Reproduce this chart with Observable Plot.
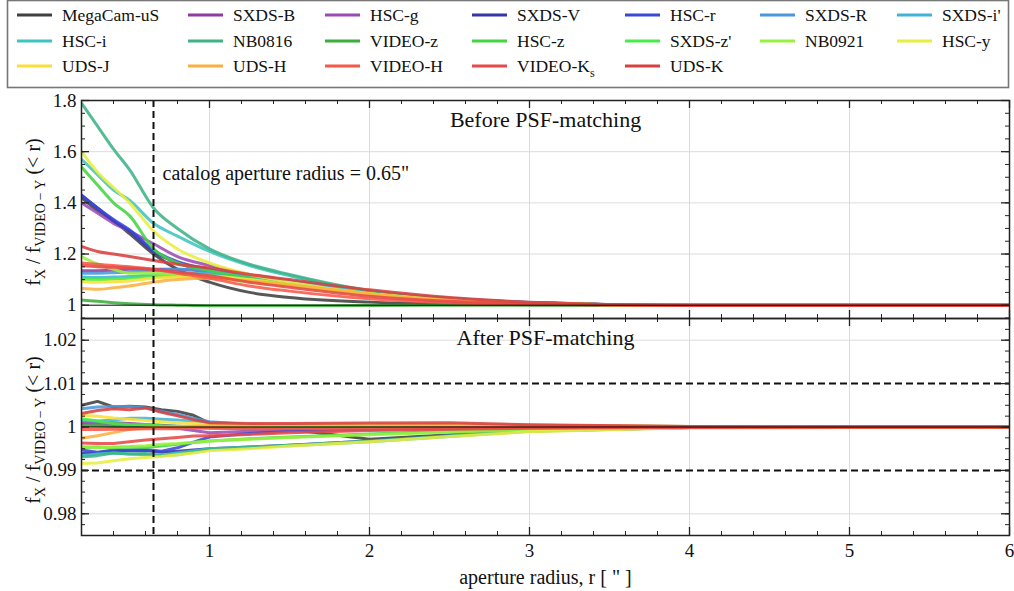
<!DOCTYPE html>
<html><head><meta charset="utf-8">
<script src="https://cdn.jsdelivr.net/npm/d3@7"></script>
<script src="https://cdn.jsdelivr.net/npm/@observablehq/plot@0.6"></script>
<style>
body{margin:0;background:#fff;}
#wrap{position:relative;width:1014px;height:591px;font-family:'Liberation Serif','DejaVu Serif',serif;}
#wrap svg{position:absolute;left:0;overflow:visible;background:transparent;}
#wrap svg text{font-family:'Liberation Serif','DejaVu Serif',serif;}
</style></head><body><div id="wrap"></div>
<script>
// ---------------- data ----------------
const bands = ["MegaCam-uS","SXDS-B","HSC-g","SXDS-V","HSC-r","SXDS-R","SXDS-i'",
  "HSC-i","NB0816","VIDEO-z","HSC-z","SXDS-z'","NB0921","HSC-y",
  "UDS-J","UDS-H","VIDEO-H","VIDEO-Ks","UDS-K"];
const colors = ["#404040","#8e3c9e","#9b4bb5","#3535a8","#3a48d8","#4a98dc","#40b4d8",
  "#40c4c0","#3db386","#3cae3c","#44d444","#48ec48","#98f040","#e8ee40",
  "#f8e038","#f8b040","#f85848","#e84848","#d84040"];

// aperture radii (arcsec) sampled in each panel
const rBefore = [0.2,0.3,0.4,0.5,0.65,0.8,1.0,1.25,1.5,2.0,2.5,3.0,4.0,6.0];
const rAfter  = [0.2,0.3,0.4,0.5,0.6,0.7,0.8,0.9,1.0,1.25,1.5,2.0,2.5,3.0,4.0,6.0];

// Before PSF-matching: f_X / f_VIDEO-Y(<r), one row per band
const before = [
  [1.42,1.37,1.33,1.28,1.20,1.14,1.09,1.05,1.03,1.012,1.005,1.002,1.0,1.0],
  [1.135,1.135,1.137,1.14,1.14,1.14,1.13,1.11,1.09,1.05,1.025,1.01,1.0,1.0],
  [1.40,1.36,1.32,1.29,1.24,1.19,1.155,1.12,1.095,1.05,1.025,1.01,1.0,1.0],
  [1.43,1.38,1.33,1.29,1.21,1.165,1.135,1.11,1.09,1.05,1.024,1.01,1.0,1.0],
  [1.43,1.38,1.335,1.295,1.215,1.17,1.14,1.115,1.095,1.055,1.026,1.011,1.0,1.0],
  [1.125,1.125,1.127,1.13,1.135,1.14,1.135,1.115,1.095,1.055,1.025,1.01,1.0,1.0],
  [1.11,1.108,1.11,1.112,1.12,1.125,1.125,1.11,1.09,1.05,1.022,1.009,1.0,1.0],
  [1.57,1.51,1.45,1.41,1.32,1.27,1.21,1.155,1.115,1.055,1.025,1.01,1.0,1.0],
  [1.79,1.70,1.61,1.53,1.38,1.30,1.22,1.16,1.12,1.057,1.027,1.011,1.0,1.0],
  [1.02,1.015,1.01,1.006,1.002,1.0,0.998,0.998,0.998,0.999,1.0,1.0,1.0,1.0],
  [1.54,1.47,1.40,1.35,1.22,1.165,1.135,1.105,1.08,1.045,1.02,1.008,1.0,1.0],
  [1.10,1.10,1.102,1.105,1.11,1.115,1.115,1.10,1.08,1.045,1.02,1.008,1.0,1.0],
  [1.19,1.16,1.14,1.125,1.125,1.12,1.11,1.09,1.075,1.04,1.02,1.008,1.0,1.0],
  [1.60,1.52,1.46,1.40,1.29,1.22,1.165,1.12,1.09,1.045,1.02,1.008,1.0,1.0],
  [1.092,1.09,1.092,1.095,1.105,1.11,1.112,1.10,1.08,1.045,1.02,1.008,1.0,1.0],
  [1.065,1.062,1.068,1.075,1.09,1.10,1.105,1.095,1.08,1.045,1.02,1.008,1.0,1.0],
  [1.165,1.16,1.155,1.15,1.14,1.125,1.105,1.075,1.055,1.025,1.01,1.004,1.0,1.0],
  [1.155,1.15,1.148,1.145,1.14,1.13,1.115,1.09,1.07,1.035,1.015,1.006,1.0,1.0],
  [1.23,1.21,1.20,1.19,1.175,1.16,1.145,1.12,1.10,1.06,1.03,1.012,1.0,1.0]
];

// After PSF-matching
const after = [
  [1.0050,1.0059,1.0046,1.0048,1.0046,1.0040,1.0036,1.0027,1.0009,1.0005,0.9995,0.9972,0.9982,0.9995,1.0000,1.0000],
  [1.0010,1.0012,1.0010,1.0008,1.0006,1.0004,1.0002,1.0000,0.9998,0.9997,0.9998,0.9999,1.0000,1.0000,1.0000,1.0000],
  [1.0008,1.0006,1.0004,1.0005,1.0002,1.0000,0.9997,0.9992,0.9987,0.9990,0.9994,0.9996,0.9998,0.9999,1.0000,1.0000],
  [0.9939,0.9940,0.9945,0.9945,0.9946,0.9942,0.9944,0.9947,0.9950,0.9954,0.9958,0.9968,0.9980,0.9991,0.9999,1.0000],
  [0.9947,0.9942,0.9947,0.9947,0.9948,0.9944,0.9952,0.9965,0.9977,0.9985,0.9990,0.9994,0.9996,0.9998,1.0000,1.0000],
  [1.0042,1.0046,1.0047,1.0047,1.0044,1.0036,1.0029,1.0020,1.0012,1.0006,1.0003,1.0003,1.0004,1.0003,1.0001,1.0000],
  [1.0015,1.0014,1.0016,1.0020,1.0020,1.0018,1.0016,1.0013,1.0010,1.0004,1.0002,1.0000,1.0000,1.0000,1.0000,1.0000],
  [0.9934,0.9938,0.9940,0.9938,0.9936,0.9935,0.9940,0.9945,0.9950,0.9954,0.9957,0.9966,0.9978,0.9990,0.9998,1.0000],
  [0.9931,0.9934,0.9940,0.9938,0.9939,0.9934,0.9936,0.9942,0.9948,0.9953,0.9958,0.9968,0.9980,0.9991,0.9999,1.0000],
  [1.0003,1.0003,1.0002,1.0002,1.0002,1.0001,1.0001,1.0001,1.0001,1.0001,1.0001,1.0001,1.0000,1.0000,1.0000,1.0000],
  [0.9953,0.9954,0.9952,0.9954,0.9953,0.9956,0.9960,0.9964,0.9968,0.9973,0.9977,0.9984,0.9990,0.9995,0.9999,1.0000],
  [1.0019,1.0014,1.0008,1.0006,1.0005,1.0003,1.0002,1.0001,1.0000,1.0000,1.0000,1.0000,1.0000,1.0000,1.0000,1.0000],
  [0.9955,0.9952,0.9954,0.9955,0.9957,0.9960,0.9962,0.9965,0.9968,0.9972,0.9976,0.9982,0.9988,0.9994,0.9999,1.0000],
  [0.9916,0.9917,0.9922,0.9927,0.9930,0.9932,0.9936,0.9940,0.9945,0.9950,0.9956,0.9966,0.9978,0.9989,0.9998,1.0000],
  [1.0027,1.0025,1.0021,1.0018,1.0015,1.0012,1.0010,1.0008,1.0006,1.0005,1.0005,1.0005,1.0006,1.0004,1.0001,1.0000],
  [0.9974,0.9980,0.9987,0.9995,0.9998,1.0000,1.0001,1.0002,1.0003,1.0004,1.0005,1.0005,1.0005,1.0004,1.0001,1.0000],
  [0.9994,0.9994,0.9995,0.9995,0.9996,0.9996,0.9996,0.9997,0.9997,0.9996,0.9996,0.9997,0.9998,0.9999,1.0000,1.0000],
  [0.9963,0.9962,0.9962,0.9966,0.9970,0.9973,0.9976,0.9979,0.9980,0.9983,0.9987,0.9992,0.9995,0.9997,0.9999,1.0000],
  [1.0031,1.0038,1.0042,1.0040,1.0044,1.0034,1.0026,1.0017,1.0010,1.0008,1.0008,1.0009,1.0010,1.0005,1.0001,1.0000]
];

const xTicks = [1,2,3,4,5,6];
const xGrid = [1,2,3,4,5];
const yTicksBefore = [1,1.2,1.4,1.6,1.8];
const yGridBefore = [1.2,1.4,1.6];
const yTicksAfter = [0.98,0.99,1,1.01,1.02];
const yGridAfter = [0.98,1.02];
const tolerance = [0.99,1.01];
const apertureR = 0.65;
const xLabel = "aperture radius, r [ \" ]";
const catalogText = "catalog aperture radius = 0.65\"";
const titleBefore = "Before PSF-matching";
const titleAfter = "After PSF-matching";

// ---------------- build ----------------
const FONT = "'Liberation Serif','DejaVu Serif',serif";
const W = 1014, ML = 81, MR = 5;
const innerW = W - ML - MR;
const fmt = d => String(+d.toFixed(3));

function tidy(rs, table) {
  const out = [];
  table.forEach((vals, i) => vals.forEach((v, j) => out.push({band: bands[i], r: rs[j], v})));
  return out;
}
const rowsBefore = tidy(rBefore, before);
const rowsAfter = tidy(rAfter, after);

const wrap = document.getElementById("wrap");

function range(a, b, s) { return d3.range(Math.round(a / s), Math.round(b / s) + 1).map(k => +(k * s).toFixed(6)); }

function panel({rows, curve, yDomain, yTicks, yGrid, yMinorStep, yMajorStep, height, marginTop, marginBottom, showX, extras}) {
  const innerH = height - marginTop - marginBottom;
  const xMinor = range(0.2, 6, 0.2).filter(x => x > 0.2 && x < 6);
  const yMinor = range(yDomain[0], yDomain[1], yMinorStep).filter(v => v > yDomain[0] && v < yDomain[1]);
  const yMajor = range(yDomain[0], yDomain[1], yMajorStep).filter(v => v > yDomain[0] && v <= yDomain[1]);
  const xMajor = xTicks;
  const tickStroke = "#222";
  const marks = [
    Plot.ruleX(xGrid, {x: d => d, stroke: "#dcdcdc", strokeWidth: 1}),
    Plot.ruleY(yGrid, {y: d => d, stroke: "#dcdcdc", strokeWidth: 1}),
    ...(extras.before || []),
    Plot.line(rows, {x: "r", y: "v", z: "band", stroke: "band", strokeWidth: 3, strokeOpacity: 0.88, curve, clip: true}),
    Plot.ruleY([1], {y: d => d, stroke: "#000", strokeWidth: 1}),
    Plot.ruleX([apertureR], {x: d => d, stroke: "#111", strokeWidth: 2, strokeDasharray: "7,4"}),
    ...(extras.after || []),
    Plot.tickX(xMinor, {x: d => d, insetTop: innerH - 4, stroke: tickStroke}),
    Plot.tickX(xMinor, {x: d => d, insetBottom: innerH - 4, stroke: tickStroke}),
    Plot.tickX(xMajor, {x: d => d, insetTop: innerH - 8, stroke: tickStroke, strokeWidth: 1.3}),
    Plot.tickX(xMajor, {x: d => d, insetBottom: innerH - 8, stroke: tickStroke, strokeWidth: 1.3}),
    Plot.tickY(yMinor, {y: d => d, insetRight: innerW - 4, stroke: tickStroke}),
    Plot.tickY(yMinor, {y: d => d, insetLeft: innerW - 4, stroke: tickStroke}),
    Plot.tickY(yMajor, {y: d => d, insetRight: innerW - 8, stroke: tickStroke, strokeWidth: 1.3}),
    Plot.tickY(yMajor, {y: d => d, insetLeft: innerW - 8, stroke: tickStroke, strokeWidth: 1.3}),
    Plot.frame({stroke: "#222", strokeWidth: 1.5})
  ];
  const svg = Plot.plot({
    width: W, height, marginLeft: ML, marginRight: MR, marginTop, marginBottom,
    style: {fontSize: "19px", background: "transparent", overflow: "visible", color: "#111"},
    x: {domain: [0.2, 6], ticks: xTicks, tickSize: 0, tickPadding: 8, tickFormat: fmt, label: null, axis: showX ? "bottom" : null},
    y: {domain: yDomain, ticks: yTicks, tickSize: 0, tickPadding: 5, tickFormat: fmt, label: null},
    color: {domain: bands, range: colors},
    marks
  });
  svg.style.fontFamily = FONT;
  return svg;
}

// Legend
const legendSvg = d3.create("svg").attr("width", W).attr("height", 92).style("top", "0px");
legendSvg.append("rect").attr("x", 7.5).attr("y", 0.5).attr("width", 1001).attr("height", 87)
  .attr("fill", "#fff").attr("stroke", "#777").attr("stroke-width", 1.6);
const colX = [17, 188, 325, 472, 625, 760, 897];
const rowY = [15, 41, 66];
bands.forEach((b, i) => {
  const cx = colX[i % 7], cy = rowY[Math.floor(i / 7)];
  legendSvg.append("line").attr("x1", cx).attr("x2", cx + 35).attr("y1", cy).attr("y2", cy)
    .attr("stroke", colors[i]).attr("stroke-width", 3);
  const t = legendSvg.append("text").attr("x", cx + 45).attr("y", cy).attr("dy", "0.35em")
    .attr("font-size", 17.5).attr("fill", "#111");
  if (b === "VIDEO-Ks") {
    t.append("tspan").text("VIDEO-K");
    t.append("tspan").text("s").attr("font-size", 12).attr("dy", 5);
  } else t.text(b);
});
wrap.appendChild(legendSvg.node());

// Top panel
const topSvg = panel({
  rows: rowsBefore, curve: "monotone-x", yDomain: [0.948, 1.8], yTicks: yTicksBefore, yGrid: yGridBefore,
  yMinorStep: 0.05, yMajorStep: 0.2, height: 229, marginTop: 10, marginBottom: 1, showX: false,
  extras: {after: [
    Plot.text([titleBefore], {frameAnchor: "top", lineAnchor: "middle", dy: 19, fontSize: 22, fill: "#111"}),
    Plot.text([catalogText], {x: apertureR, frameAnchor: "top", lineAnchor: "middle", dy: 73, dx: 9, textAnchor: "start", fontSize: 20, fill: "#111"})
  ]}
});
topSvg.style.top = "90px";
wrap.appendChild(topSvg);

// Bottom panel
const botSvg = panel({
  rows: rowsAfter, curve: "linear", yDomain: [0.975, 1.025], yTicks: yTicksAfter, yGrid: yGridAfter,
  yMinorStep: 0.0025, yMajorStep: 0.01, height: 273, marginTop: 0, marginBottom: 56, showX: true,
  extras: {
    before: [Plot.ruleY(tolerance, {y: d => d, stroke: "#111", strokeWidth: 2, strokeDasharray: "7,4"})],
    after: [
      Plot.text([titleAfter], {frameAnchor: "top", lineAnchor: "middle", dy: 19, fontSize: 22, fill: "#111"}),
      Plot.text([xLabel], {frameAnchor: "bottom", lineAnchor: "middle", dy: 42, fontSize: 20, fill: "#111"})
    ]
  }
});
botSvg.style.top = "318px";
wrap.appendChild(botSvg);

// rotated y labels with subscripts
function yLabel(svg, cy) {
  const t = d3.select(svg).append("text")
    .attr("transform", `translate(40,${cy}) rotate(-90)`)
    .attr("text-anchor", "middle").attr("font-size", 20).attr("fill", "#111");
  t.append("tspan").text("f");
  t.append("tspan").text("X").attr("font-size", 14).attr("dy", 5);
  t.append("tspan").text(" / f").attr("dy", -5);
  t.append("tspan").text("VIDEO\u2009\u2212\u2009Y").attr("font-size", 14).attr("dy", 5);
  t.append("tspan").text(" (< r)").attr("dy", -5);
}
yLabel(topSvg, 212 - 90);
yLabel(botSvg, 430 - 318);
</script></body></html>
